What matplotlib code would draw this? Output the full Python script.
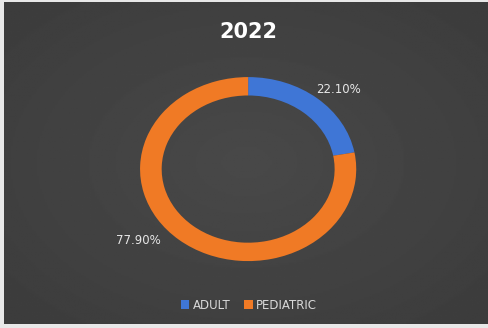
import matplotlib.pyplot as plt
import numpy as np
from matplotlib.patches import Patch

title = "2022"
categories = ["ADULT", "PEDIATRIC"]
shares = [22.10, 77.90]
colors = ["#3F76D6", "#F07A25"]

fig = plt.figure(figsize=(4.88, 3.28), dpi=100)
fig.patch.set_facecolor("#e8e8e8")

# dark chart area with soft radial gradient
bg = fig.add_axes([0.008, 0.012, 0.992, 0.982])
yy, xx = np.mgrid[-1:1:200j, -1:1:300j]
r = np.sqrt(xx ** 2 + yy ** 2)
bg.imshow(0.285 - 0.05 * np.clip(r / 1.4, 0, 1), cmap="gray", vmin=0, vmax=1,
          aspect="auto", extent=[0, 1, 0, 1])
bg.set_axis_off()

ax = fig.add_axes([0.287, 0.204, 0.443, 0.561])
wedges, _ = ax.pie(shares, colors=colors, startangle=90, counterclock=False,
                   wedgeprops=dict(width=0.2, edgecolor="none"))
ax.set_aspect("auto")
ax.set_xlim(-1, 1)
ax.set_ylim(-1, 1)

label_pos = [(0.84, 0.86), (-1.02, -0.78)]
for (x, y), v in zip(label_pos, shares):
    ax.text(x, y, f"{v:.2f}%", color="#e6e6e6", fontsize=8.5,
            ha="center", va="center")

fig.text(0.508, 0.902, title, color="white", fontsize=15, fontweight="bold",
         ha="center", va="center")

handles = [Patch(facecolor=c, edgecolor="none") for c in colors]
fig.legend(handles, categories, loc="center", bbox_to_anchor=(0.51, 0.07),
           ncol=2, frameon=False, fontsize=8.5, labelcolor="#d9d9d9",
           handlelength=0.7, handleheight=0.7, handletextpad=0.3,
           columnspacing=1.2)

fig.savefig("out.png", dpi=100, facecolor=fig.get_facecolor())
